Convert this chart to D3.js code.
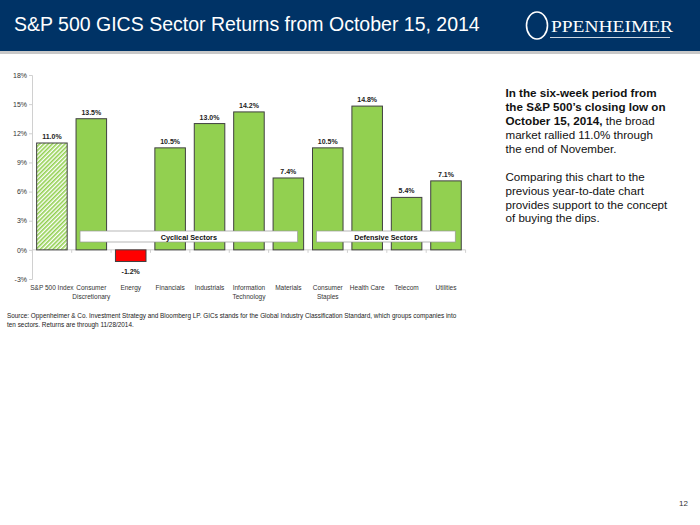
<!DOCTYPE html>
<html><head><meta charset="utf-8">
<script src="https://cdn.jsdelivr.net/npm/d3@7/dist/d3.min.js"></script>
<style>body{margin:0;background:#fff}svg{display:block}</style>
</head><body>
<script>
const categories = ["S&P 500 Index","Consumer\nDiscretionary","Energy","Financials","Industrials","Information\nTechnology","Materials","Consumer\nStaples","Health Care","Telecom","Utilities"];
const values = [11.0,13.5,-1.2,10.5,13.0,14.2,7.4,10.5,14.8,5.4,7.1];
const yTicks = [-3,0,3,6,9,12,15,18];
const groups = [{label:"Cyclical Sectors",from:1,to:6},{label:"Defensive Sectors",from:7,to:10}];

const W=700,H=525;
const svg=d3.select("body").append("svg").attr("width",W).attr("height",H);
const defs=svg.append("defs");
const pat=defs.append("pattern").attr("id","hatch").attr("patternUnits","userSpaceOnUse")
  .attr("width",3).attr("height",3).attr("patternTransform","rotate(45)");
pat.append("rect").attr("width",3).attr("height",3).attr("fill","#fff");
pat.append("rect").attr("width",1.6).attr("height",3).attr("fill","#92D050");

// header
svg.append("rect").attr("x",0).attr("y",0).attr("width",W).attr("height",51).attr("fill","#003366");
svg.append("rect").attr("x",0).attr("y",51).attr("width",W).attr("height",3).attr("fill","#c8c8c8");
svg.append("text").attr("x",14).attr("y",31).attr("fill","#fff")
  .attr("font-family","Liberation Sans, Arial, sans-serif").attr("font-size",19.5)
  .text("S&P 500 GICS Sector Returns from October 15, 2014");
// logo
const lg=svg.append("g");
lg.append("ellipse").attr("cx",537).attr("cy",25.5).attr("rx",10.5).attr("ry",13.5)
  .attr("fill","none").attr("stroke","#fff").attr("stroke-width",1.6);
lg.append("text").attr("x",551).attr("y",32).attr("fill","#fff")
  .attr("font-family","Liberation Serif, Times New Roman, serif").attr("font-size",16)
  .attr("textLength",122).attr("lengthAdjust","spacingAndGlyphs").text("PPENHEIMER");
lg.append("line").attr("x1",550).attr("x2",670).attr("y1",37.5).attr("y2",37.5).attr("stroke","#fff").attr("stroke-width",0.8);

// chart
const x=d3.scaleBand().domain(d3.range(categories.length)).range([32.3,465.6]).paddingInner(0.225).paddingOuter(0.11);
const y=d3.scaleLinear().domain([-3,18]).range([279,75]);
const g=svg.append("g");
const yAxis=g.append("g").attr("transform","translate(32,0)")
  .call(d3.axisLeft(y).tickValues(yTicks).tickSize(3).tickFormat(d=>d+"%"));
yAxis.select(".domain").attr("stroke","#d0d0d0");
yAxis.selectAll(".tick line").attr("stroke","#d0d0d0");
yAxis.selectAll("text").attr("font-family","Liberation Sans, Arial, sans-serif").attr("font-size",7).attr("fill","#333").attr("x",-5);

// x axis at 0
g.append("line").attr("x1",32).attr("x2",465.6).attr("y1",y(0)).attr("y2",y(0)).attr("stroke","#d0d0d0");
d3.range(categories.length+1).forEach(i=>{
  const xx=32.3+i*(465.6-32.3)/categories.length;
  g.append("line").attr("x1",xx).attr("x2",xx).attr("y1",y(0)).attr("y2",y(0)+3).attr("stroke","#d0d0d0");
});

g.selectAll("rect.bar").data(values).join("rect").attr("class","bar")
  .attr("x",(d,i)=>x(i)).attr("width",x.bandwidth())
  .attr("y",d=>y(Math.max(0,d))).attr("height",d=>Math.abs(y(d)-y(0)))
  .attr("fill",(d,i)=>i===0?"url(#hatch)":(d<0?"#FF0000":"#92D050"))
  .attr("stroke","#404040").attr("stroke-width",1);

g.selectAll("text.val").data(values).join("text").attr("class","val")
  .attr("x",(d,i)=>x(i)+x.bandwidth()/2)
  .attr("y",d=>d>=0?y(d)-4:y(d)+12)
  .attr("text-anchor","middle").attr("font-family","Liberation Sans, Arial, sans-serif")
  .attr("font-size",7).attr("font-weight","bold").attr("fill","#222")
  .text(d=>d.toFixed(1)+"%");

// group boxes
groups.forEach(gr=>{
  const x0=x(gr.from)+4, x1=x(gr.to)+x.bandwidth()-6;
  g.append("rect").attr("x",x0).attr("y",231).attr("width",x1-x0).attr("height",11)
    .attr("fill","#fff").attr("stroke","#999").attr("stroke-width",0.7);
  g.append("text").attr("x",(x0+x1)/2).attr("y",239.5).attr("text-anchor","middle")
    .attr("font-family","Liberation Sans, Arial, sans-serif").attr("font-size",7.3).attr("font-weight","bold").attr("fill","#111")
    .text(gr.label);
});

// category labels
categories.forEach((c,i)=>{
  const t=g.append("text").attr("x",x(i)+x.bandwidth()/2).attr("y",290).attr("text-anchor","middle")
    .attr("font-family","Liberation Sans, Arial, sans-serif").attr("font-size",6.5).attr("fill","#333");
  c.split("\n").forEach((l,k)=>t.append("tspan").attr("x",x(i)+x.bandwidth()/2).attr("dy",k?8.5:0).text(l));
});

// source
const src=svg.append("text").attr("font-family","Liberation Sans, Arial, sans-serif").attr("font-size",6.4).attr("fill","#222");
src.append("tspan").attr("x",7).attr("y",318).text("Source: Oppenheimer & Co. Investment Strategy and Bloomberg LP.  GICs stands for the Global Industry Classification Standard, which groups companies into");
src.append("tspan").attr("x",7).attr("y",327).text("ten sectors. Returns are through 11/28/2014.");

// side text: [text, bold, width]
const lines=[
  [["In the six-week period from",true,151]],
  [["the S&P 500\u2019s closing low on",true,160]],
  [["October 15, 2014,",true,97],[" the broad",false,0]],
  [["market rallied 11.0% through",false,0]],
  [["the end of November.",false,0]],
  [],
  [["Comparing this chart to the",false,0]],
  [["previous year-to-date chart",false,0]],
  [["provides support to the concept",false,0]],
  [["of buying the dips.",false,0]]
];
lines.forEach((ln,i)=>{
  const st=svg.append("text").attr("font-family","Liberation Sans, Arial, sans-serif").attr("font-size",11.6).attr("fill","#111")
    .attr("x",505.5).attr("y",97.3+i*13.9);
  ln.forEach(seg=>{
    const ts=st.append("tspan").text(seg[0]).attr("font-weight",seg[1]?"bold":"normal");
    if(seg[2]) ts.attr("textLength",seg[2]).attr("lengthAdjust","spacingAndGlyphs");
  });
});

svg.append("text").attr("x",688).attr("y",506).attr("text-anchor","end")
  .attr("font-family","Liberation Sans, Arial, sans-serif").attr("font-size",8).attr("fill","#333").text("12");
</script>
</body></html>
